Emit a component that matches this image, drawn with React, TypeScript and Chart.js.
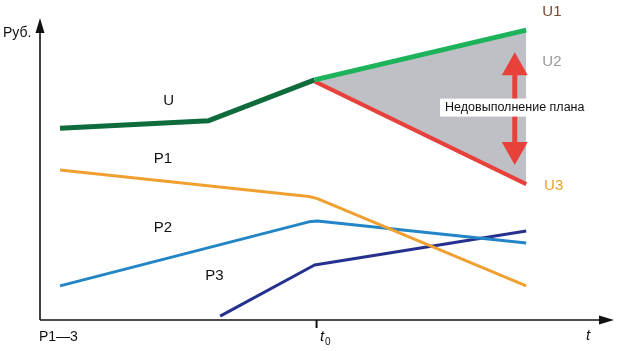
import React, { useEffect, useRef } from "react";
import { Chart, registerables } from "chart.js";

Chart.register(...registerables);

// Schematic values (x: time units, y: roubles units)
const uX = [3.5, 29.5, 48];
const uY = [63.5, 66, 79.5];
const u1X = [48, 85];
const u1Y = [79.5, 96];
const u3X = [48, 85];
const u3Y = [79, 45];
const p1X = [3.5, 47, 48.5, 85];
const p1Y = [49.7, 40.9, 40.2, 11.3];
const p2X = [3.5, 47, 48.5, 85];
const p2Y = [11.3, 32.5, 32.8, 25.5];
const p3X = [31.5, 48, 85];
const p3Y = [1.3, 18.2, 29.5];

const t0 = 48;
const gapArrowX = 83;
const gapArrowTop = 88.7;
const gapArrowBottom = 51.3;

const seriesLabels = [
  { text: "U", x: 22.5, y: 72.5, color: "#111" },
  { text: "P1", x: 21.5, y: 53.5, color: "#111" },
  { text: "P2", x: 21.5, y: 30.5, color: "#111" },
  { text: "P3", x: 30.5, y: 14.5, color: "#111" },
  { text: "U1", x: 89.5, y: 102, color: "#7a4a30" },
  { text: "U2", x: 89.5, y: 85.5, color: "#9a9a9a" },
  { text: "U3", x: 89.8, y: 44.5, color: "#e8a02c" },
];
const gapLabel = "Недовыполнение плана";
const yAxisTitle = "Руб.";
const xStartLabel = "P1—3";

const pts = (xs: number[], ys: number[]) => xs.map((x, i) => ({ x, y: ys[i] }));

const FONT = "'Liberation Sans', Arial, sans-serif";

export default function App() {
  const ref = useRef<HTMLCanvasElement>(null);
  useEffect(() => {
    if (!ref.current) return;
    const decor = {
      id: "decor",
      beforeDatasetsDraw(chart: any) {
        const ctx = chart.ctx;
        const { left, right, top, bottom } = chart.chartArea;
        ctx.save();
        ctx.strokeStyle = "#111";
        ctx.fillStyle = "#111";
        ctx.lineWidth = 1.6;
        // y axis
        ctx.beginPath();
        ctx.moveTo(left, bottom);
        ctx.lineTo(left, top + 10);
        ctx.stroke();
        ctx.beginPath();
        ctx.moveTo(left, top);
        ctx.lineTo(left - 4.5, top + 15);
        ctx.lineTo(left + 4.5, top + 15);
        ctx.closePath();
        ctx.fill();
        // x axis
        ctx.beginPath();
        ctx.moveTo(left, bottom);
        ctx.lineTo(right - 10, bottom);
        ctx.stroke();
        ctx.beginPath();
        ctx.moveTo(right + 2, bottom);
        ctx.lineTo(right - 13, bottom - 4.5);
        ctx.lineTo(right - 13, bottom + 4.5);
        ctx.closePath();
        ctx.fill();
        // t0 tick
        const tx = chart.scales.x.getPixelForValue(t0) + 2;
        ctx.lineWidth = 2;
        ctx.beginPath();
        ctx.moveTo(tx, bottom);
        ctx.lineTo(tx, bottom + 8);
        ctx.stroke();
        // axis texts
        ctx.font = `14px ${FONT}`;
        ctx.textBaseline = "middle";
        ctx.textAlign = "left";
        ctx.fillText(yAxisTitle, 3, 33);
        ctx.fillText(xStartLabel, 39, 337);
        ctx.font = `italic 15px ${FONT}`;
        ctx.fillText("t", 320, 337);
        ctx.fillText("t", 586, 336);
        ctx.font = `10px ${FONT}`;
        ctx.fillText("0", 325, 342);
        ctx.restore();
      },
      afterDatasetsDraw(chart: any) {
        const ctx = chart.ctx;
        const xs = chart.scales.x;
        const ys = chart.scales.y;
        ctx.save();
        // double arrow
        const ax = xs.getPixelForValue(gapArrowX);
        const at = ys.getPixelForValue(gapArrowTop);
        const ab = ys.getPixelForValue(gapArrowBottom);
        ctx.fillStyle = "#e8403a";
        ctx.strokeStyle = "#e8403a";
        ctx.lineWidth = 5;
        ctx.beginPath();
        ctx.moveTo(ax, at + 20);
        ctx.lineTo(ax, ab - 20);
        ctx.stroke();
        ctx.beginPath();
        ctx.moveTo(ax, at);
        ctx.lineTo(ax - 13, at + 23);
        ctx.lineTo(ax + 13, at + 23);
        ctx.closePath();
        ctx.fill();
        ctx.beginPath();
        ctx.moveTo(ax, ab);
        ctx.lineTo(ax - 13, ab - 23);
        ctx.lineTo(ax + 13, ab - 23);
        ctx.closePath();
        ctx.fill();
        // gap label
        ctx.font = `12.5px ${FONT}`;
        const w = ctx.measureText(gapLabel).width;
        const cy = (at + ab) / 2 - 1;
        ctx.fillStyle = "#fff";
        ctx.fillRect(ax - w / 2 - 5, cy - 9, w + 10, 18);
        ctx.fillStyle = "#111";
        ctx.textAlign = "center";
        ctx.textBaseline = "middle";
        ctx.fillText(gapLabel, ax, cy);
        // series labels
        ctx.font = `15px ${FONT}`;
        for (const l of seriesLabels) {
          ctx.fillStyle = l.color;
          ctx.fillText(l.text, xs.getPixelForValue(l.x), ys.getPixelForValue(l.y));
        }
        ctx.restore();
      },
    };
    const line = (data: any, color: string, width: number, extra: any = {}) => ({
      data,
      borderColor: color,
      borderWidth: width,
      pointRadius: 0,
      fill: false,
      borderJoinStyle: "round",
      ...extra,
    });
    const chart = new Chart(ref.current, {
      type: "line",
      data: {
        datasets: [
          line(pts(u1X, u1Y), "#1db35a", 5, { fill: 1, backgroundColor: "#bfc0c6" }),
          line(pts(u3X, u3Y), "#e8403a", 4),
          line(pts(uX, uY), "#0e6b3c", 5),
          line(pts(p1X, p1Y), "#f0a030", 3),
          line(pts(p2X, p2Y), "#2385c6", 3),
          line(pts(p3X, p3Y), "#25308f", 3),
        ] as any,
      },
      options: {
        animation: false,
        responsive: false,
        layout: { padding: { left: 40, right: 6, top: 18, bottom: 31 } },
        scales: {
          x: { type: "linear", min: 0, max: 100, display: false },
          y: { type: "linear", min: 0, max: 100, display: false },
        },
        plugins: {
          legend: { display: false },
          tooltip: { enabled: false },
          filler: { drawTime: "beforeDatasetsDraw" },
        } as any,
      },
      plugins: [decor],
    });
    return () => chart.destroy();
  }, []);
  return (
    <div style={{ position: "fixed", left: 0, top: 0, width: 618, height: 351, background: "#fff" }}>
      <canvas ref={ref} width={618} height={351} style={{ width: 618, height: 351 }} />
    </div>
  );
}
